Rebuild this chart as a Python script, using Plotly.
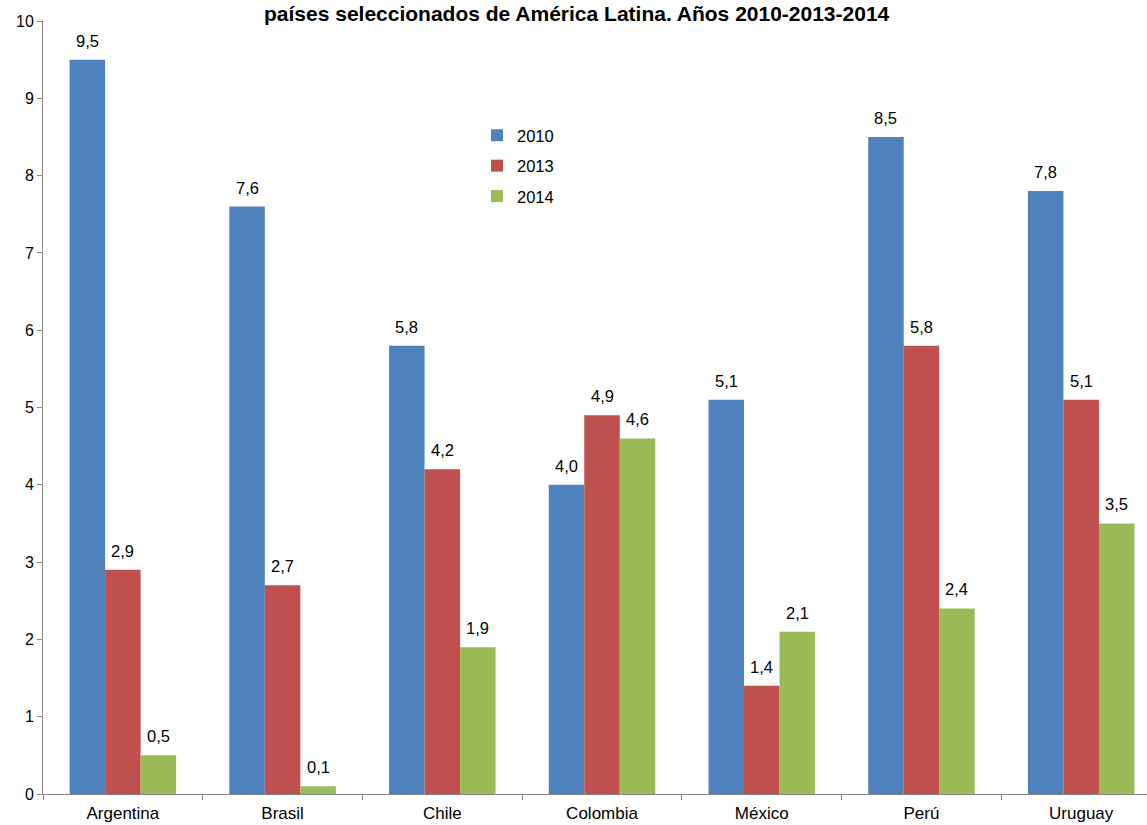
import plotly.graph_objects as go

categories = ["Argentina", "Brasil", "Chile", "Colombia", "México", "Perú", "Uruguay"]
v2010 = [9.5, 7.6, 5.8, 4.0, 5.1, 8.5, 7.8]
v2013 = [2.9, 2.7, 4.2, 4.9, 1.4, 5.8, 5.1]
v2014 = [0.5, 0.1, 1.9, 4.6, 2.1, 2.4, 3.5]
series = [("2010", v2010, "#4F81BD"), ("2013", v2013, "#C0504D"), ("2014", v2014, "#9BBB59")]
title_text = "países seleccionados de América Latina. Años 2010-2013-2014"

FONT = "Liberation Sans, Arial, sans-serif"
W, H = 1147, 825
ML, MR, MT, MB = 43, 0, 21, 31
PW = W - ML - MR
PH = H - MT - MB
XMAX = 6.412
BARGAP = 0.333
cat_px = PW / (XMAX + 0.5)
bar_px = cat_px * (1 - BARGAP) / 3

fig = go.Figure()
annotations = []
for i, (name, vals, color) in enumerate(series):
    fig.add_trace(go.Bar(
        x=categories, y=vals, name=name, legendgroup=name,
        marker=dict(color=color, line=dict(width=0)),
    ))
    for c, v in zip(categories, vals):
        annotations.append(dict(
            x=c, y=v, xref="x", yref="y", text=f"{v:.1f}".replace(".", ","),
            showarrow=False, xanchor="center", yanchor="bottom",
            xshift=(i - 1) * bar_px, yshift=8,
            font=dict(family=FONT, size=16.5, color="#000000"),
        ))

annotations.append(dict(
    text="<b>" + title_text + "</b>", xref="paper", yref="paper",
    x=(577 - ML) / PW, y=1 + MT / PH, xanchor="center", yanchor="top",
    showarrow=False, font=dict(family=FONT, size=21, color="#000000"),
))

fig.update_layout(
    width=W, height=H,
    margin=dict(l=ML, r=MR, t=MT, b=MB),
    paper_bgcolor="white", plot_bgcolor="white",
    barmode="group", bargap=BARGAP, bargroupgap=0,
    font=dict(family=FONT, size=16, color="#000000"),
    showlegend=True,
    legend=dict(x=(477 - ML) / PW, y=1 - (118 - MT) / PH, xanchor="left", yanchor="top",
                font=dict(family=FONT, size=16.5, color="#000000"),
                bgcolor="rgba(0,0,0,0)", tracegroupgap=6),
    xaxis=dict(range=[-0.5, XMAX], showline=True, linecolor="#868686", linewidth=1,
               ticks="outside", tickson="boundaries", ticklen=5, tickcolor="#868686",
               showgrid=False, ticklabelstandoff=4,
               tickfont=dict(family=FONT, size=17, color="#000000")),
    yaxis=dict(range=[0, 10], dtick=1, showline=True, linecolor="#868686", linewidth=1,
               ticks="outside", ticklen=5, tickcolor="#868686", showgrid=False, zeroline=False,
               tickfont=dict(family=FONT, size=16, color="#000000")),
    annotations=annotations,
)

fig.write_html("out.html")
